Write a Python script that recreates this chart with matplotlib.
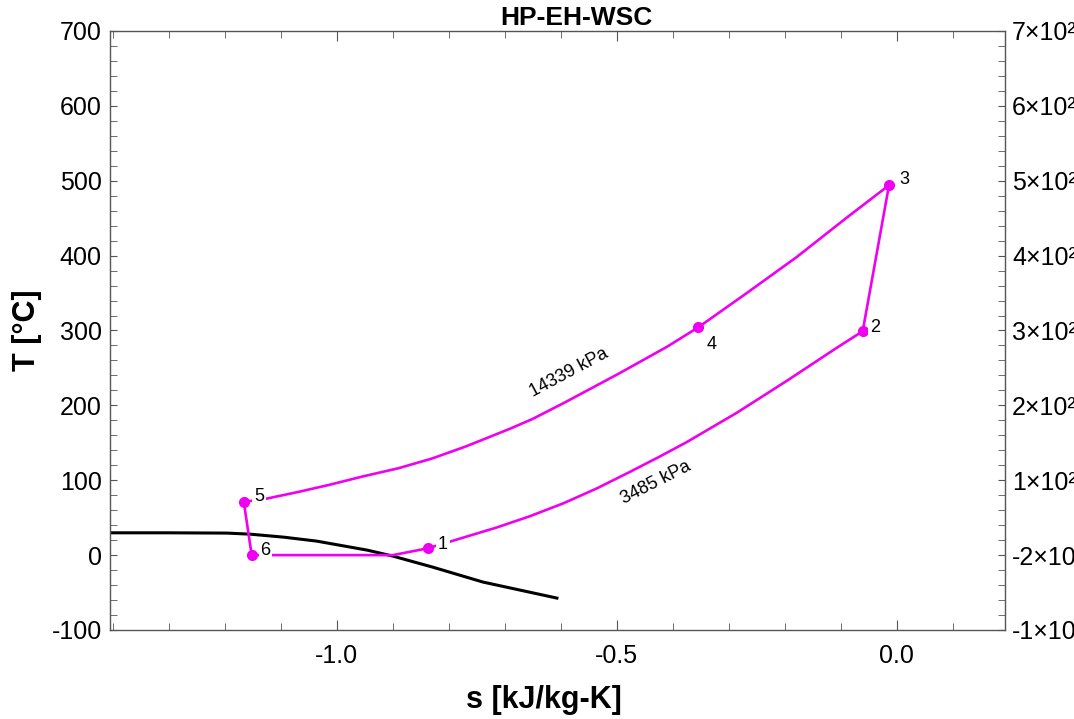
import matplotlib
matplotlib.use("Agg")

import matplotlib.pyplot as plt
from matplotlib.ticker import MultipleLocator

plt.rcParams["font.family"] = ["Liberation Sans", "DejaVu Sans"]
plt.rcParams["axes.unicode_minus"] = False

MAGENTA = "#F000F0"

# state points 1..6 (s [kJ/kg-K], T [C])
state_labels = ["1", "2", "3", "4", "5", "6"]
state_s = [-0.838, -0.061, -0.014, -0.355, -1.166, -1.152]
state_T = [9.0, 299.0, 494.0, 304.0, 71.0, 0.0]

# 3485 kPa isobar, 1 -> 2
lo_s = [-0.838, -0.798, -0.714, -0.655, -0.596, -0.536, -0.477,
        -0.425, -0.375, -0.286, -0.196, -0.107, -0.061]
lo_T = [9.0, 18.0, 37.0, 52.0, 69.0, 89.0, 111.0,
        131.0, 151.0, 190.0, 233.0, 277.0, 299.0]

# 14339 kPa isobar, 3 -> 4 -> 5
hi_s = [-0.014, -0.089, -0.179, -0.268, -0.355, -0.411, -0.495, -0.53,
        -0.59, -0.65, -0.69, -0.77, -0.83, -0.89, -0.954, -1.0125,
        -1.071, -1.125, -1.166]
hi_T = [494.0, 451.0, 398.0, 350.0, 304.0, 278.0, 243.0, 229.0,
        205.0, 182.0, 169.0, 145.0, 129.0, 116.0, 105.0, 94.0,
        84.0, 75.5, 71.0]

# 6 -> 1 (flat to the dome, then up to 1)
mix_s = [-1.152, -0.90, -0.838]
mix_T = [0.0, 0.0, 9.0]

# saturation line
sat_s = [-1.405, -1.304, -1.196, -1.155, -1.095, -1.036, -0.946, -0.90,
         -0.829, -0.739, -0.607]
sat_T = [29.8, 29.8, 29.4, 28.0, 24.0, 18.7, 6.7, -1.3, -16.0, -36.0, -57.4]

y_ticks = [-100, 0, 100, 200, 300, 400, 500, 600, 700]
right_labels = ["-1×10", "-2×10", "1×10²", "2×10²", "3×10²", "4×10²",
                "5×10²", "6×10²", "7×10²"]
x_ticks = [-1.0, -0.5, 0.0]
x_labels = ["-1.0", "-0.5", "0.0"]

# label offsets in points
label_offsets = [(11, 3), (9, 3), (11, 4), (10, -12), (11, 4), (10, 3)]

fig = plt.figure(figsize=(10.74, 7.19), dpi=100)
ax = fig.add_axes([0.1024, 0.1238, 0.8333, 0.8331])

cyc_s = lo_s + hi_s + mix_s
cyc_T = lo_T + hi_T + mix_T
ax.plot(cyc_s, cyc_T, color=MAGENTA, lw=1.9, zorder=3)
ax.plot(state_s, state_T, "o", color=MAGENTA, ms=7, zorder=4)
ax.plot(sat_s, sat_T, color="black", lw=2.2, zorder=2)

for lab, s, t, off in zip(state_labels, state_s, state_T, label_offsets):
    ax.annotate(lab, xy=(s, t), xytext=off, textcoords="offset points",
                ha="center", va="center", fontsize=13, zorder=5,
                bbox=dict(boxstyle="square,pad=0.1", fc="white", ec="none"))

ax.text(-0.586, 244, "14339 kPa", rotation=28, ha="center", va="center",
        fontsize=13, rotation_mode="anchor")
ax.text(-0.43, 97, "3485 kPa", rotation=27, ha="center", va="center",
        fontsize=13, rotation_mode="anchor")

ax.set_xlim(-1.405, 0.193)
ax.set_ylim(-100, 700)
ax.set_xticks(x_ticks)
ax.set_xticklabels(x_labels)
ax.set_yticks(y_ticks)
ax.xaxis.set_minor_locator(MultipleLocator(0.1))
ax.yaxis.set_minor_locator(MultipleLocator(20))
ax.tick_params(which="both", direction="in", top=True, right=False,
               color="#555555", labelsize=18)
ax.tick_params(axis="x", which="major", length=7, pad=10)
ax.tick_params(axis="x", which="minor", length=5)
ax.tick_params(axis="y", which="both", length=5, pad=6)
for sp in ax.spines.values():
    sp.set_color("#555555")
    sp.set_linewidth(1.0)

ax2 = ax.twinx()
ax2.set_ylim(-100, 700)
ax2.set_yticks(y_ticks)
ax2.set_yticklabels(right_labels)
ax2.yaxis.set_minor_locator(MultipleLocator(20))
ax2.tick_params(which="both", direction="in", length=5, color="#555555",
                labelsize=18, pad=5)
for sp in ax2.spines.values():
    sp.set_visible(False)

ax.set_xlabel("s [kJ/kg-K]", fontsize=22, fontweight="bold")
ax.xaxis.set_label_coords(0.485, -0.092)
ax.set_ylabel("T [°C]", fontsize=22, fontweight="bold")
ax.yaxis.set_label_coords(-0.076, 0.5)
fig.text(0.537, 0.975, "HP-EH-WSC", ha="center", va="center",
         fontsize=19, fontweight="bold")

fig.savefig("out.png", dpi=100, facecolor="white")
